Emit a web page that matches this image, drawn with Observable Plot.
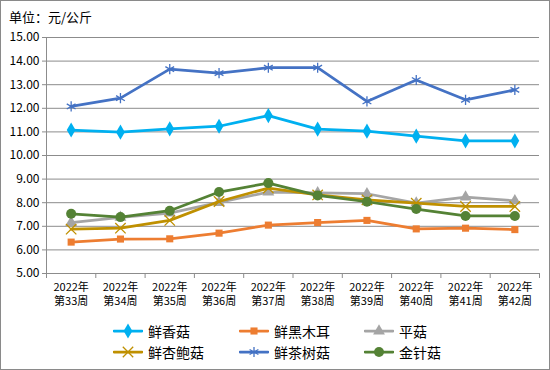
<!DOCTYPE html>
<html>
<head>
<meta charset="utf-8">
<script src="https://cdn.jsdelivr.net/npm/d3@7"></script>
<script src="https://cdn.jsdelivr.net/npm/@observablehq/plot@0.6"></script>
<style>
  html, body { margin: 0; padding: 0; background: #fff; }
  #wrap { position: relative; width: 550px; height: 370px; box-sizing: border-box; border: 1px solid #8a8a8a; font-family: "Noto Sans CJK SC", "Noto Sans", sans-serif; background: #fff; }
  #title { position: absolute; left: 8px; top: 6px; font-size: 13px; color: #000; line-height: 20px; }
  #chart { position: absolute; left: 0; top: 0; }
  .leg { position: absolute; height: 20px; display: flex; align-items: center; font-size: 14px; color: #000; white-space: nowrap; }
  .leg svg { margin-right: 5px; }
</style>
</head>
<body>
<div id="wrap">
  <div id="chart"></div>
  <div id="title">单位：元/公斤</div>
  <div id="legend"></div>
</div>
<script>
const weeks = ["2022年\n第33周","2022年\n第34周","2022年\n第35周","2022年\n第36周","2022年\n第37周","2022年\n第38周","2022年\n第39周","2022年\n第40周","2022年\n第41周","2022年\n第42周"];
const seriesNames = ["鲜香菇","鲜黑木耳","平菇","鲜杏鲍菇","鲜茶树菇","金针菇"];
const xianXiangGu = [11.08, 10.99, 11.13, 11.24, 11.69, 11.12, 11.03, 10.82, 10.62, 10.62];
const xianHeiMuEr = [6.33, 6.46, 6.47, 6.71, 7.05, 7.16, 7.25, 6.89, 6.92, 6.86];
const pingGu = [7.16, 7.38, 7.56, 8.01, 8.45, 8.42, 8.38, 7.98, 8.24, 8.08];
const xianXingBaoGu = [6.88, 6.92, 7.25, 8.05, 8.62, 8.33, 8.12, 7.98, 7.84, 7.84];
const xianChaShuGu = [12.08, 12.43, 13.66, 13.49, 13.72, 13.72, 12.29, 13.20, 12.36, 12.78];
const jinZhenGu = [7.53, 7.39, 7.66, 8.45, 8.83, 8.31, 8.04, 7.73, 7.44, 7.44];
const yTicks = [5, 6, 7, 8, 9, 10, 11, 12, 13, 14, 15];

const seriesValues = [xianXiangGu, xianHeiMuEr, pingGu, xianXingBaoGu, xianChaShuGu, jinZhenGu];
const colors = ["#00B0F0", "#ED7D31", "#A5A5A5", "#BF9000", "#4472C4", "#548235"];
const symbols = ["diamond", "square", "triangle", "times", "asterisk", "circle"];
const filled = [true, true, true, false, false, true];
const radii = [4.6, 4.0, 4.4, 4.8, 4.8, 5.0];

const idx = weeks.map((_, i) => i);
const bounds = [-0.5, ...idx.map(i => i + 0.5)];

const marks = [
  Plot.gridY(yTicks, {stroke: "#8c8c8c", strokeOpacity: 1, strokeWidth: 1}),
  Plot.axisY({ticks: yTicks, tickFormat: d => d.toFixed(2), tickSize: 4, tickPadding: 3, stroke: "#8c8c8c", strokeOpacity: 1, fill: "#000", fontSize: 12, label: null}),
  Plot.ruleX([-0.5], {stroke: "#8c8c8c", strokeWidth: 1}),
  Plot.ruleY([5], {stroke: "#8c8c8c", strokeWidth: 1}),
  Plot.axisX({ticks: bounds, tickFormat: () => "", tickSize: 5, stroke: "#8c8c8c", strokeOpacity: 1, label: null}),
  Plot.axisX({ticks: idx, tickFormat: i => weeks[i], tickSize: 0, tickPadding: 7, fill: "#000", fontSize: 11, lineHeight: 1.32, label: null})
];

seriesValues.forEach((vals, s) => {
  const rows = vals.map((v, i) => ({i, v}));
  marks.push(Plot.line(rows, {x: "i", y: "v", stroke: colors[s], strokeWidth: 2.75, strokeLinejoin: "round", strokeLinecap: "round"}));
  if (filled[s]) {
    marks.push(Plot.dot(rows, {x: "i", y: "v", symbol: () => symbols[s], r: radii[s], fill: colors[s], stroke: null}));
  } else {
    marks.push(Plot.dot(rows, {x: "i", y: "v", symbol: () => symbols[s], r: radii[s], fill: "none", stroke: colors[s], strokeWidth: 1.3}));
  }
});

const chart = Plot.plot({
  width: 548,
  height: 315,
  marginLeft: 45,
  marginRight: 10,
  marginTop: 36,
  marginBottom: 43,
  style: {fontFamily: '"Noto Sans CJK SC", "Noto Sans", sans-serif', background: "transparent", overflow: "visible"},
  x: {type: "linear", domain: [-0.5, 9.5]},
  y: {type: "linear", domain: [5, 15]},
  symbol: {type: "identity"},
  marks
});
document.getElementById("chart").appendChild(chart);

// Legend
const legend = document.getElementById("legend");
const colLeft = [112, 238, 363];
const rowTop = [320, 341];
const symMap = {diamond: d3.symbolDiamond, square: d3.symbolSquare, triangle: d3.symbolTriangle, times: d3.symbolTimes, asterisk: d3.symbolAsterisk, circle: d3.symbolCircle};
seriesNames.forEach((name, s) => {
  const r = s < 3 ? 0 : 1, c = s % 3;
  const div = document.createElement("div");
  div.className = "leg";
  div.style.left = colLeft[c] + "px";
  div.style.top = rowTop[r] + "px";
  const size = Math.PI * radii[s] * radii[s];
  const path = d3.symbol(symMap[symbols[s]], size)();
  const sym = filled[s]
    ? `<path d="${path}" transform="translate(15,10)" fill="${colors[s]}"/>`
    : `<path d="${path}" transform="translate(15,10)" fill="none" stroke="${colors[s]}" stroke-width="1.3"/>`;
  div.innerHTML = `<svg width="30" height="20"><line x1="1" x2="29" y1="10" y2="10" stroke="${colors[s]}" stroke-width="2.75" stroke-linecap="round"/>${sym}</svg><span>${name}</span>`;
  legend.appendChild(div);
});
</script>
</body>
</html>
